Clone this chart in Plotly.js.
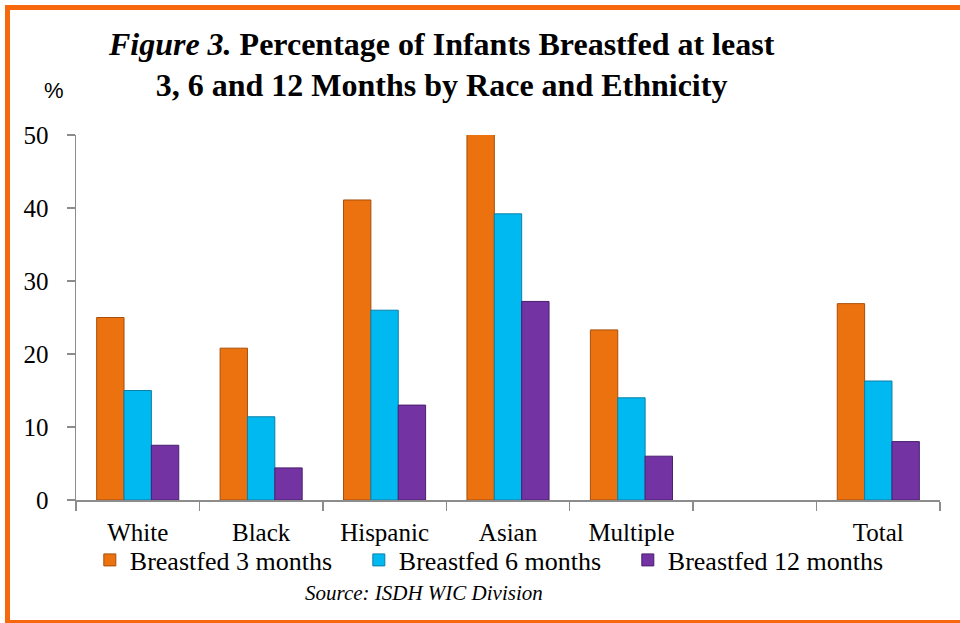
<!DOCTYPE html>
<html><head><meta charset="utf-8">
<script src="https://cdn.plot.ly/plotly-3.0.1.min.js"></script>
<style>
html,body{margin:0;padding:0;background:#fff;}
#wrap{position:relative;width:960px;height:623px;overflow:hidden;}
#frame{position:absolute;left:5px;top:5px;width:960px;height:610px;border:5px solid #F7680E;box-sizing:content-box;pointer-events:none;}
#chart{position:absolute;left:0;top:0;width:960px;height:623px;}
</style></head>
<body><div id="wrap"><div id="chart"></div><div id="frame"></div></div>
<script>
var categories = ['White','Black','Hispanic','Asian','Multiple',' ','Total'];
var seriesNames = ['Breastfed 3 months','Breastfed 6 months','Breastfed 12 months'];
var months3 = [25.0, 20.8, 41.1, 50.3, 23.3, null, 26.9];
var months6 = [15.0, 11.4, 26.0, 39.2, 14.0, null, 16.3];
var months12 = [7.5, 4.4, 13.0, 27.2, 6.0, null, 8.0];
var yTicks = [0,10,20,30,40,50];

var colors = ['#EC7210','#00B9F1','#7333A3'];
var edges = ['#A84E08','#0A7FA8','#4A1F6E'];
var vals = [months3, months6, months12];
var traces = vals.map(function(v,i){
  return {type:'bar', x:categories, y:v, name:seriesNames[i],
    marker:{color:colors[i], line:{color:edges[i], width:1}},
    cliponaxis:false, hoverinfo:'skip'};
});
var serif = '"Liberation Serif", "Times New Roman", Times, serif';
var sans = '"Liberation Sans", Arial, Helvetica, sans-serif';
var layout = {
  width:960, height:623,
  margin:{l:76, r:20, t:135, b:123},
  paper_bgcolor:'#fff', plot_bgcolor:'#fff',
  barmode:'group', bargap:0.335, bargroupgap:0,
  font:{family:serif, color:'#000'},
  title:{text:'<b><i>Figure 3.</i> Percentage of Infants Breastfed at least<br>3, 6 and 12 Months by Race and Ethnicity</b>',
    font:{family:serif, size:32, color:'#000'}, x:0.46, xanchor:'center', y:0.912, yanchor:'top'},
  xaxis:{type:'category', categoryorder:'array', categoryarray:categories,
    showline:true, linecolor:'#8c8c8c', linewidth:1.5, ticks:'outside', ticklen:9, tickcolor:'#8c8c8c', tickwidth:1.5,
    tickson:'boundaries', tickfont:{family:serif, size:25, color:'#000'}, showgrid:false, zeroline:false, fixedrange:true, ticklabelstandoff:9},
  yaxis:{range:[0,50], tickvals:yTicks, ticktext:yTicks.map(String),
    showline:true, linecolor:'#8c8c8c', linewidth:1.5, ticks:'outside', ticklen:8, tickcolor:'#8c8c8c', tickwidth:1.5,
    tickfont:{family:serif, size:25, color:'#000'}, showgrid:false, zeroline:false, fixedrange:true, ticklabelstandoff:13},
  showlegend:true,
  legend:{orientation:'h', x:0.016, xanchor:'left', y:-0.1, yanchor:'top',
    font:{family:serif, size:26, color:'#000'}, entrywidth:224, entrywidthmode:'pixels',
    itemwidth:30, tracegroupgap:0, bgcolor:'rgba(0,0,0,0)'},
  annotations:[
    {xref:'paper', yref:'paper', x:-0.026, y:1.123, xanchor:'center', yanchor:'middle', showarrow:false,
     text:'%', font:{family:sans, size:22, color:'#000'}},
    {xref:'paper', yref:'paper', x:0.403, y:-0.255, xanchor:'center', yanchor:'middle', showarrow:false,
     text:'<i>Source: ISDH WIC Division</i>', font:{family:serif, size:21, color:'#000'}}
  ]
};
Plotly.newPlot('chart', traces, layout, {displayModeBar:false, staticPlot:true});
</script></body></html>
